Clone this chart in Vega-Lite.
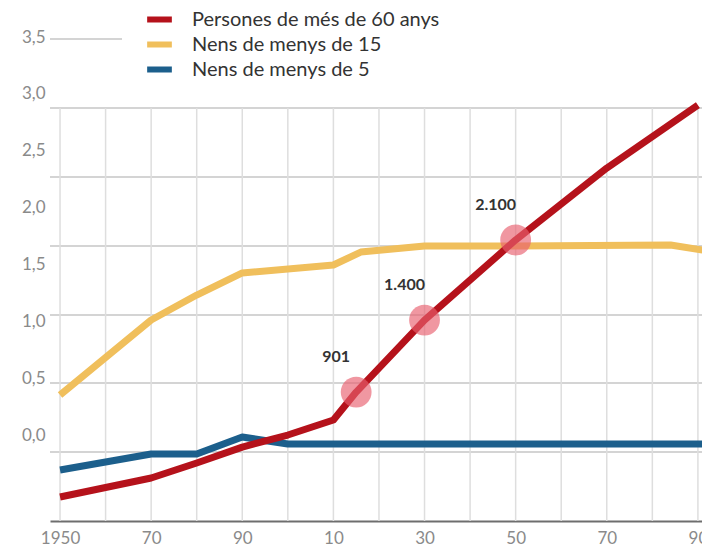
{
  "$schema": "https://vega.github.io/schema/vega-lite/v6.json",
  "width": 652,
  "height": 484,
  "autosize": "none",
  "padding": {"left": 50, "top": 37, "right": 0, "bottom": 27},
  "background": "white",
  "config": {"view": {"stroke": null}},
  "datasets": {
    "hgrid": [{"g": -0.1495}, {"g": 0.457}, {"g": 1.055}, {"g": 1.662}, {"g": 2.269}, {"g": 2.876}],
    "vgrid": [{"year": 1950}, {"year": 1960}, {"year": 1970}, {"year": 1980}, {"year": 1990}, {"year": 2000}, {"year": 2010}, {"year": 2020}, {"year": 2030}, {"year": 2040}, {"year": 2050}, {"year": 2060}, {"year": 2070}, {"year": 2080}, {"year": 2090}],
    "series": [
      {"year": 1950, "value": 0.352, "series": "Nens de menys de 15"},
      {"year": 1970, "value": 1.011, "series": "Nens de menys de 15"},
      {"year": 1980, "value": 1.231, "series": "Nens de menys de 15"},
      {"year": 1990, "value": 1.425, "series": "Nens de menys de 15"},
      {"year": 2010, "value": 1.495, "series": "Nens de menys de 15"},
      {"year": 2016, "value": 1.609, "series": "Nens de menys de 15"},
      {"year": 2030, "value": 1.662, "series": "Nens de menys de 15"},
      {"year": 2050, "value": 1.662, "series": "Nens de menys de 15"},
      {"year": 2084, "value": 1.671, "series": "Nens de menys de 15"},
      {"year": 2091, "value": 1.627, "series": "Nens de menys de 15"},
      {"year": 1950, "value": -0.308, "series": "Nens de menys de 5"},
      {"year": 1970, "value": -0.167, "series": "Nens de menys de 5"},
      {"year": 1980, "value": -0.167, "series": "Nens de menys de 5"},
      {"year": 1990, "value": -0.018, "series": "Nens de menys de 5"},
      {"year": 2000, "value": -0.079, "series": "Nens de menys de 5"},
      {"year": 2091, "value": -0.079, "series": "Nens de menys de 5"},
      {"year": 1950, "value": -0.545, "series": "Persones de més de 60 anys"},
      {"year": 1970, "value": -0.378, "series": "Persones de més de 60 anys"},
      {"year": 1980, "value": -0.246, "series": "Persones de més de 60 anys"},
      {"year": 1990, "value": -0.106, "series": "Persones de més de 60 anys"},
      {"year": 2000, "value": 0.0, "series": "Persones de més de 60 anys"},
      {"year": 2010, "value": 0.132, "series": "Persones de més de 60 anys"},
      {"year": 2015, "value": 0.378, "series": "Persones de més de 60 anys"},
      {"year": 2030, "value": 1.011, "series": "Persones de més de 60 anys"},
      {"year": 2050, "value": 1.715, "series": "Persones de més de 60 anys"},
      {"year": 2070, "value": 2.348, "series": "Persones de més de 60 anys"},
      {"year": 2090, "value": 2.902, "series": "Persones de més de 60 anys"}
    ],
    "marks": [
      {"year": 2015, "value": 0.378, "label": "901"},
      {"year": 2030, "value": 1.011, "label": "1.400"},
      {"year": 2050, "value": 1.715, "label": "2.100"}
    ]
  },
  "layer": [
    {
      "data": {"name": "hgrid"},
      "mark": {"type": "rule", "color": "#d4d4d4", "strokeWidth": 2},
      "encoding": {
        "y": {
          "field": "g", "type": "quantitative",
          "scale": {"domain": [-0.756, 3.5], "nice": false, "zero": false},
          "axis": {
            "values": [0, 0.5, 1, 1.5, 2, 2.5, 3, 3.5],
            "labelExpr": "replace(format(datum.value, '.1f'), '.', ',')",
            "title": null, "grid": false, "ticks": false, "domain": false,
            "labelFont": "Lato", "labelFontSize": 17, "labelColor": "#8a8a8a",
            "labelPadding": 5, "labelFlush": false
          }
        }
      }
    },
    {
      "data": {"name": "vgrid"},
      "mark": {"type": "rule", "color": "#dedede", "strokeWidth": 1.5},
      "encoding": {
        "x": {
          "field": "year", "type": "quantitative",
          "scale": {"domain": [1947.8, 2090.9], "nice": false, "zero": false},
          "axis": {
            "values": [1950, 1970, 1990, 2010, 2030, 2050, 2070, 2090],
            "labelExpr": "datum.value == 1950 ? '1950' : slice(toString(datum.value), 2)",
            "title": null, "grid": false, "ticks": false,
            "domainColor": "#6e6e6e", "domainWidth": 2,
            "labelFont": "Lato", "labelFontSize": 17, "labelColor": "#8a8a8a",
            "labelPadding": 9, "labelFlush": false, "labelOverlap": false
          }
        },
        "y": {"datum": -0.756, "type": "quantitative"},
        "y2": {"datum": 2.876}
      }
    },
    {
      "data": {"values": [{}]},
      "mark": {"type": "rule", "color": "#d4d4d4", "strokeWidth": 2},
      "encoding": {
        "x": {"datum": 1947.8, "type": "quantitative"},
        "x2": {"datum": 1963.6},
        "y": {"datum": 3.483, "type": "quantitative"}
      }
    },
    {
      "data": {"name": "series"},
      "mark": {"type": "line", "strokeWidth": 7, "strokeJoin": "round", "clip": true},
      "encoding": {
        "x": {"field": "year", "type": "quantitative"},
        "y": {"field": "value", "type": "quantitative"},
        "color": {
          "field": "series", "type": "nominal",
          "scale": {
            "domain": ["Persones de més de 60 anys", "Nens de menys de 15", "Nens de menys de 5"],
            "range": ["#b5121b", "#f0bf5c", "#1c5f8c"]
          },
          "legend": {
            "orient": "none", "legendX": 97, "legendY": -30,
            "title": null, "symbolType": "M-1.3,0H1.3", "symbolStrokeWidth": 6, "symbolSize": 361,
            "labelFont": "Lato", "labelFontSize": 20, "labelColor": "#333333", "labelLimit": 0,
            "labelOffset": 20, "rowPadding": 0, "padding": 0
          }
        }
      }
    },
    {
      "data": {"name": "marks"},
      "mark": {"type": "circle", "size": 950, "color": "#e8606e", "opacity": 0.65},
      "encoding": {
        "x": {"field": "year", "type": "quantitative"},
        "y": {"field": "value", "type": "quantitative"}
      }
    },
    {
      "data": {"name": "marks"},
      "mark": {"type": "text", "dx": -20, "dy": -35, "font": "Lato", "fontWeight": "bold", "fontSize": 16, "color": "#333333"},
      "encoding": {
        "x": {"field": "year", "type": "quantitative"},
        "y": {"field": "value", "type": "quantitative"},
        "text": {"field": "label", "type": "nominal"}
      }
    }
  ]
}
